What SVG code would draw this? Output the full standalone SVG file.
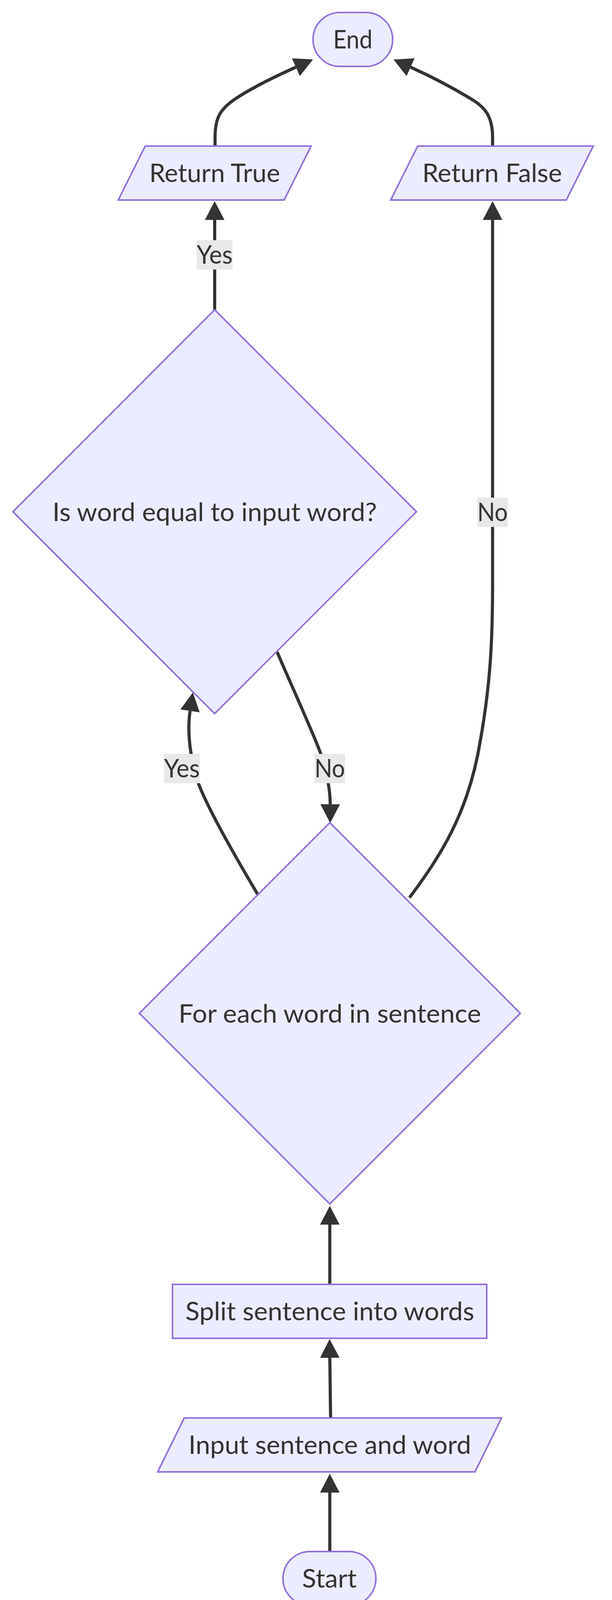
<svg xmlns="http://www.w3.org/2000/svg" width="1568" height="4186" viewBox="0 0 1568 4186">
<style>
.node{fill:#ECECFF;stroke:#9370DB;stroke-width:4}
.txt{font-family:Lato,"Liberation Sans",sans-serif;font-size:66px;fill:#333333;text-anchor:middle}
.edge{fill:none;stroke:#333333;stroke-width:8}
.elbg{fill:#e8e8e8}
</style>
<defs>
<marker id="arr" viewBox="0 0 48 50" refX="0" refY="25" markerWidth="48" markerHeight="50" markerUnits="userSpaceOnUse" orient="auto"><path d="M0,0 L48,25 L0,50 z" fill="#333333"/></marker>
</defs>
<rect width="1568" height="4186" fill="#ffffff"/>
<g id="connectors">
<path class="edge" marker-end="url(#arr)" d="M845,3972 L845,3821"/>
<path class="edge" marker-end="url(#arr)" d="M847,3630 L845,3476"/>
<path class="edge" marker-end="url(#arr)" d="M845,3288 L845,3135"/>
<path class="edge" marker-end="url(#arr)" d="M660,2289 C610,2205 540,2085 510,2010 C490,1955 478,1880 487,1820"/>
<path class="edge" marker-end="url(#arr)" d="M710,1669 C740,1740 800,1870 822,1930 C838,1980 846,2020 846,2059"/>
<path class="edge" marker-end="url(#arr)" d="M550,793 L550,563"/>
<path class="edge" marker-end="url(#arr)" d="M1049,2298 C1130,2190 1200,2080 1230,1900 C1255,1760 1262,1650 1262,1500 L1262,563"/>
<path class="edge" marker-end="url(#arr)" d="M551,374 L551,352 C551,300 565,280 600,255 C640,228 700,198 758,172"/>
<path class="edge" marker-end="url(#arr)" d="M1262,374 L1262,352 C1262,300 1245,275 1205,252 C1160,225 1110,198 1052,172"/>
</g>
<g id="edge-labels">
<g id="label-yes-1"><rect class="elbg" x="504" y="615" width="92" height="75"/><text class="txt" x="550" y="675" textLength="92" lengthAdjust="spacingAndGlyphs">Yes</text></g>
<g id="label-yes-2"><rect class="elbg" x="420" y="1930" width="92" height="75"/><text class="txt" x="466" y="1990" textLength="92" lengthAdjust="spacingAndGlyphs">Yes</text></g>
<g id="label-no-1"><rect class="elbg" x="806" y="1930" width="78" height="75"/><text class="txt" x="845" y="1990" textLength="78" lengthAdjust="spacingAndGlyphs">No</text></g>
<g id="label-no-2"><rect class="elbg" x="1223" y="1274" width="78" height="75"/><text class="txt" x="1262" y="1334" textLength="78" lengthAdjust="spacingAndGlyphs">No</text></g>
</g>
<g id="node-end"><rect class="node" x="802" y="32" width="204" height="138" rx="69" ry="69"/><text class="txt" x="904" y="124" textLength="101" lengthAdjust="spacingAndGlyphs">End</text></g>
<g id="node-return-true"><polygon class="node" points="372,374 797,374 728,512 303,512"/><text class="txt" x="550" y="466" textLength="335" lengthAdjust="spacingAndGlyphs">Return True</text></g>
<g id="node-return-false"><polygon class="node" points="1070,374 1520,374 1451,512 1001,512"/><text class="txt" x="1261" y="466" textLength="358" lengthAdjust="spacingAndGlyphs">Return False</text></g>
<g id="node-is-equal"><polygon class="node" points="550,793 1067,1310 550,1827 33,1310"/><text class="txt" x="550" y="1334" textLength="831" lengthAdjust="spacingAndGlyphs">Is word equal to input word?</text></g>
<g id="node-for-each"><polygon class="node" points="845,2106 1333,2594 845,3082 357,2594"/><text class="txt" x="845" y="2618" textLength="775" lengthAdjust="spacingAndGlyphs">For each word in sentence</text></g>
<g id="node-split"><rect class="node" x="442" y="3288" width="805" height="138"/><text class="txt" x="845" y="3380" textLength="740" lengthAdjust="spacingAndGlyphs">Split sentence into words</text></g>
<g id="node-input"><polygon class="node" points="472,3630 1285,3630 1217,3768 404,3768"/><text class="txt" x="845" y="3722" textLength="724" lengthAdjust="spacingAndGlyphs">Input sentence and word</text></g>
<g id="node-start"><rect class="node" x="725" y="3972" width="238" height="138" rx="69" ry="69"/><text class="txt" x="844" y="4064" textLength="140" lengthAdjust="spacingAndGlyphs">Start</text></g>
</svg>
